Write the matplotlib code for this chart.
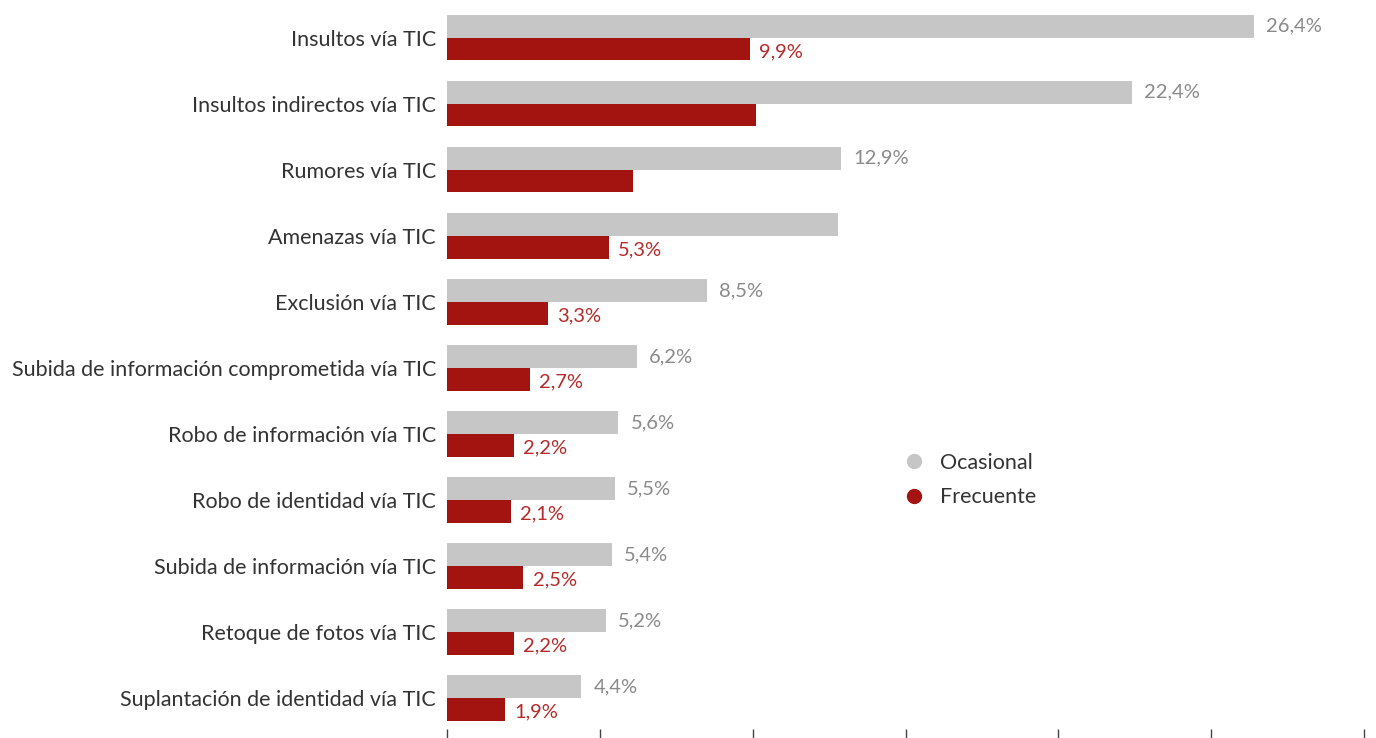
#!/usr/bin/env python3

import matplotlib
matplotlib.use("Agg")
import matplotlib.pyplot as plt
from matplotlib.lines import Line2D

categories = [
    "Insultos vía TIC",
    "Insultos indirectos vía TIC",
    "Rumores vía TIC",
    "Amenazas vía TIC",
    "Exclusión vía TIC",
    "Subida de información comprometida vía TIC",
    "Robo de información vía TIC",
    "Robo de identidad vía TIC",
    "Subida de información vía TIC",
    "Retoque de fotos vía TIC",
    "Suplantación de identidad vía TIC",
]
# bars without a printed label in the source are estimated from length
ocasional = [26.4, 22.4, 12.9, 12.8, 8.5, 6.2, 5.6, 5.5, 5.4, 5.2, 4.4]
frecuente = [9.9, 10.1, 6.1, 5.3, 3.3, 2.7, 2.2, 2.1, 2.5, 2.2, 1.9]
ocasional_shown = [True, True, True, False, True, True, True, True, True, True, True]
frecuente_shown = [True, False, False, True, True, True, True, True, True, True, True]

GRAY = "#c6c6c6"
RED = "#a31410"
FONT = ["Lato", "DejaVu Sans"]

plt.rcParams["font.family"] = FONT


def fmt(v):
    return f"{v:.1f}".replace(".", ",") + "%"


fig = plt.figure(figsize=(13.76, 7.38), dpi=100)
ax = fig.add_axes([447 / 1376, 9 / 738, (1364 - 447) / 1376, 729 / 738])

h = 0.345
ys = list(range(len(categories)))
ax.barh([y - h / 2 for y in ys], ocasional, height=h, color=GRAY)
ax.barh([y + h / 2 for y in ys], frecuente, height=h, color=RED)

for y, v, show in zip(ys, ocasional, ocasional_shown):
    if show:
        ax.text(v + 0.4, y - h / 2, fmt(v), va="center", ha="left",
                fontsize=14.5, color="#8a8a8a")
for y, v, show in zip(ys, frecuente, frecuente_shown):
    if show:
        ax.text(v + 0.3, y + h / 2 + 0.04, fmt(v), va="center", ha="left",
                fontsize=14.5, color="#b52a2a")

ax.set_xlim(0, 30)
ax.set_ylim(10.47, -0.57)
ax.set_xticks([0, 5, 10, 15, 20, 25, 30])
ax.set_xticklabels([])
ax.set_yticks(ys)
ax.set_yticklabels(categories, fontsize=15.5, color="#333333")
ax.tick_params(axis="y", length=0, pad=8)
ax.tick_params(axis="x", length=8, width=1, color="#444444", direction="out")
for s in ax.spines.values():
    s.set_visible(False)

handles = [
    Line2D([], [], marker="o", linestyle="none", markersize=10,
           markerfacecolor=GRAY, markeredgecolor=GRAY, label="Ocasional"),
    Line2D([], [], marker="o", linestyle="none", markersize=10,
           markerfacecolor=RED, markeredgecolor=RED, label="Frecuente"),
]
leg = fig.legend(handles=handles, loc="center left",
                 bbox_to_anchor=(873 / 1376, 1 - 480 / 738), frameon=False,
                 prop={"size": 15.5}, handletextpad=0.2,
                 labelspacing=0.68)
for t in leg.get_texts():
    t.set_color("#333333")

fig.savefig("out.png", dpi=100)
